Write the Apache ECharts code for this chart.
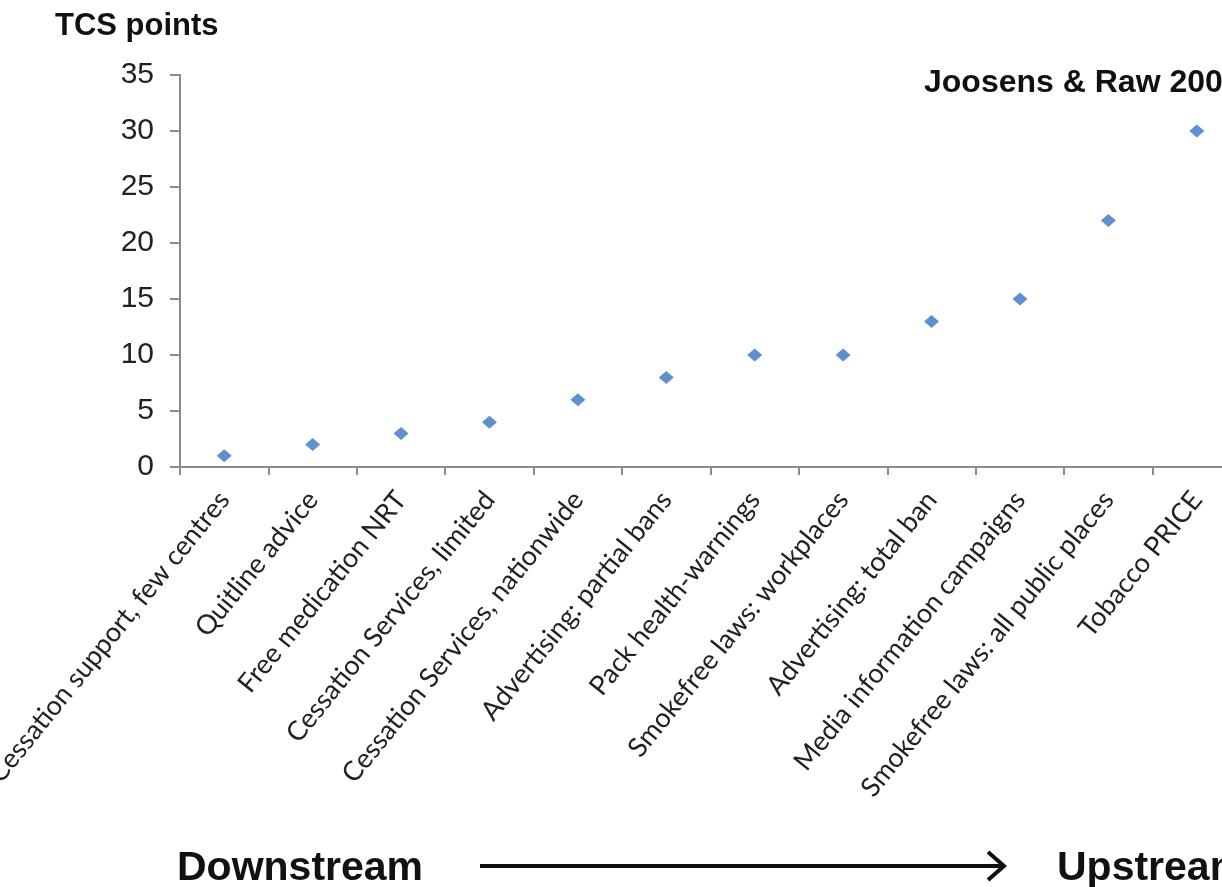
<!DOCTYPE html>
<html><head><meta charset="utf-8">
<script src="https://cdn.jsdelivr.net/npm/echarts@6/dist/echarts.min.js"></script>
<style>html,body{margin:0;padding:0;background:#fff;overflow:hidden}#c{width:1241px;height:887px}</style>
</head><body><div id="c"></div>
<script>
const categories = ["Cessation support, few centres","Quitline advice","Free medication NRT","Cessation Services, limited","Cessation Services, nationwide","Advertising: partial bans","Pack health-warnings","Smokefree laws: workplaces","Advertising: total ban","Media information campaigns","Smokefree laws: all public places","Tobacco PRICE"];
const tcsPoints = [1,2,3,4,6,8,10,10,13,15,22,30];
const yTicks = {min:0, max:35, interval:5};

const chart = echarts.init(document.getElementById('c'));
chart.setOption({
  animation:false,
  grid:{left:180, right:0, top:75, bottom:420, containLabel:false, outerBoundsMode:'none'},
  xAxis:{type:'category', data:categories, boundaryGap:true,
    axisLine:{lineStyle:{color:'#8c8c8c', width:2}},
    axisTick:{show:true, length:8, lineStyle:{color:'#8c8c8c', width:2}},
    axisLabel:{rotate:51, interval:0, margin:28, fontFamily:'Lato', fontSize:27, color:'#222'},
    splitLine:{show:false}},
  yAxis:{type:'value', min:yTicks.min, max:yTicks.max, interval:yTicks.interval,
    axisLine:{show:true, lineStyle:{color:'#8c8c8c', width:2}},
    axisTick:{show:true, length:10, lineStyle:{color:'#8c8c8c', width:2}},
    axisLabel:{margin:26, fontFamily:'Liberation Sans', fontSize:30, color:'#222'},
    splitLine:{show:false}},
  series:[{type:'scatter', data:tcsPoints, symbol:'diamond', symbolSize:[15,13],
    itemStyle:{color:'#3674c4'}}],
  graphic:[
    {type:'text', left:55, top:11, style:{text:'TCS points', font:'bold 31px "Liberation Sans"', fill:'#111'}},
    {type:'text', left:924, top:67, style:{text:'Joosens & Raw 2006', font:'bold 32px "Liberation Sans"', fill:'#111'}},
    {type:'text', left:177, top:848, style:{text:'Downstream', font:'bold 41px "Liberation Sans"', fill:'#111'}},
    {type:'text', left:1057, top:848, style:{text:'Upstream', font:'bold 41px "Liberation Sans"', fill:'#111'}},
    {type:'line', shape:{x1:480, y1:866, x2:1002, y2:866}, style:{stroke:'#111', lineWidth:4}},
    {type:'polyline', shape:{points:[[988,852],[1004,866],[988,880]]}, style:{stroke:'#111', lineWidth:4, fill:null}}
  ]
});
</script></body></html>
